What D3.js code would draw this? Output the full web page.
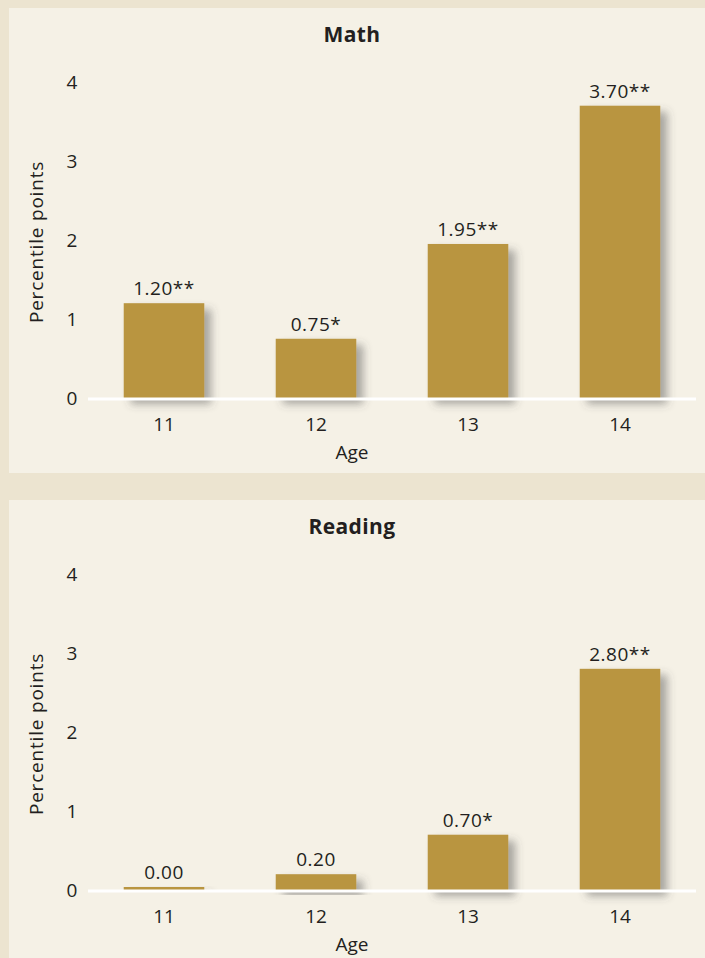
<!DOCTYPE html>
<html>
<head>
<meta charset="utf-8">
<script src="https://cdn.jsdelivr.net/npm/d3@7"></script>
<style>
  html, body { margin: 0; padding: 0; background: #ece4d0; }
  svg { display: block; }
  text { font-family: "Open Sans", sans-serif; fill: #231f20; }
</style>
</head>
<body>
<div id="chart"></div>
<script>
// data
const ages = ["11", "12", "13", "14"];
const mathValues = [1.20, 0.75, 1.95, 3.70];
const mathStars = ["**", "*", "**", "**"];
const readingValues = [0.00, 0.20, 0.70, 2.80];
const readingStars = ["", "", "*", "**"];
const yTicks = [0, 1, 2, 3, 4];

const width = 705, height = 958;

const svg = d3.select("#chart").append("svg")
  .attr("width", width)
  .attr("height", height);

// 阴影
const filter = svg.append("defs").append("filter")
  .attr("id", "shadow")
  .attr("x", "-30%").attr("y", "-30%")
  .attr("width", "160%").attr("height", "160%");
filter.append("feDropShadow")
  .attr("dx", 7).attr("dy", 6)
  .attr("stdDeviation", 4.5)
  .attr("flood-color", "#4a4a4a")
  .attr("flood-opacity", 0.45);

svg.append("rect")
  .attr("width", width).attr("height", height)
  .attr("fill", "#ece4d0");

const x = d3.scaleBand()
  .domain(ages)
  .range([88, 696])
  .paddingInner(0.47)
  .paddingOuter(0.235);

const y = d3.scaleLinear()
  .domain([0, 4])
  .range([390, 74]);

function drawPanel(top, panelHeight, title, values, stars) {
  const g = svg.append("g").attr("transform", `translate(0, ${top})`);

  g.append("rect")
    .attr("x", 9).attr("y", 0)
    .attr("width", width - 9).attr("height", panelHeight)
    .attr("fill", "#f5f1e6");

  g.append("text")
    .attr("x", 352).attr("y", 34)
    .attr("text-anchor", "middle")
    .style("font-size", "21px")
    .style("font-weight", "bold")
    .style("letter-spacing", "0.4px")
    .text(title);

  // y tick labels
  g.selectAll(".ytick")
    .data(yTicks)
    .enter().append("text")
    .attr("class", "ytick")
    .attr("x", 72)
    .attr("y", d => y(d))
    .attr("dy", "0.36em")
    .attr("text-anchor", "middle")
    .style("font-size", "19px")
    .text(d => d);

  g.append("text")
    .attr("transform", `translate(43, ${y(2) + 2}) rotate(-90)`)
    .attr("text-anchor", "middle")
    .style("font-size", "19px")
    .style("letter-spacing", "0.8px")
    .text("Percentile points");

  const data = ages.map((a, i) => ({ age: a, value: values[i], star: stars[i] }));

  g.selectAll(".bar")
    .data(data)
    .enter().append("rect")
    .attr("class", "bar")
    .attr("x", d => x(d.age))
    .attr("width", x.bandwidth())
    .attr("y", d => Math.min(y(d.value), y(0) - 3))
    .attr("height", d => Math.max(y(0) - y(d.value), 3))
    .attr("fill", "#b99540")
    .attr("filter", "url(#shadow)");

  g.append("line")
    .attr("x1", 88).attr("x2", 696)
    .attr("y1", y(0) + 1).attr("y2", y(0) + 1)
    .attr("stroke", "#ffffff")
    .attr("stroke-width", 3);

  g.selectAll(".vlabel")
    .data(data)
    .enter().append("text")
    .attr("class", "vlabel")
    .attr("x", d => x(d.age) + x.bandwidth() / 2)
    .attr("y", d => Math.min(y(d.value), y(0) - 3) - 8)
    .attr("text-anchor", "middle")
    .style("font-size", "19px")
    .style("letter-spacing", "0.5px")
    .text(d => d.value.toFixed(2) + d.star);

  g.selectAll(".xtick")
    .data(ages)
    .enter().append("text")
    .attr("class", "xtick")
    .attr("x", d => x(d) + x.bandwidth() / 2)
    .attr("y", y(0) + 33)
    .attr("text-anchor", "middle")
    .style("font-size", "19px")
    .text(d => d);

  g.append("text")
    .attr("x", 352).attr("y", y(0) + 61)
    .attr("text-anchor", "middle")
    .style("font-size", "19px")
    .text("Age");
}

drawPanel(8, 465, "Math", mathValues, mathStars);
drawPanel(500, 458, "Reading", readingValues, readingStars);
</script>
</body>
</html>
